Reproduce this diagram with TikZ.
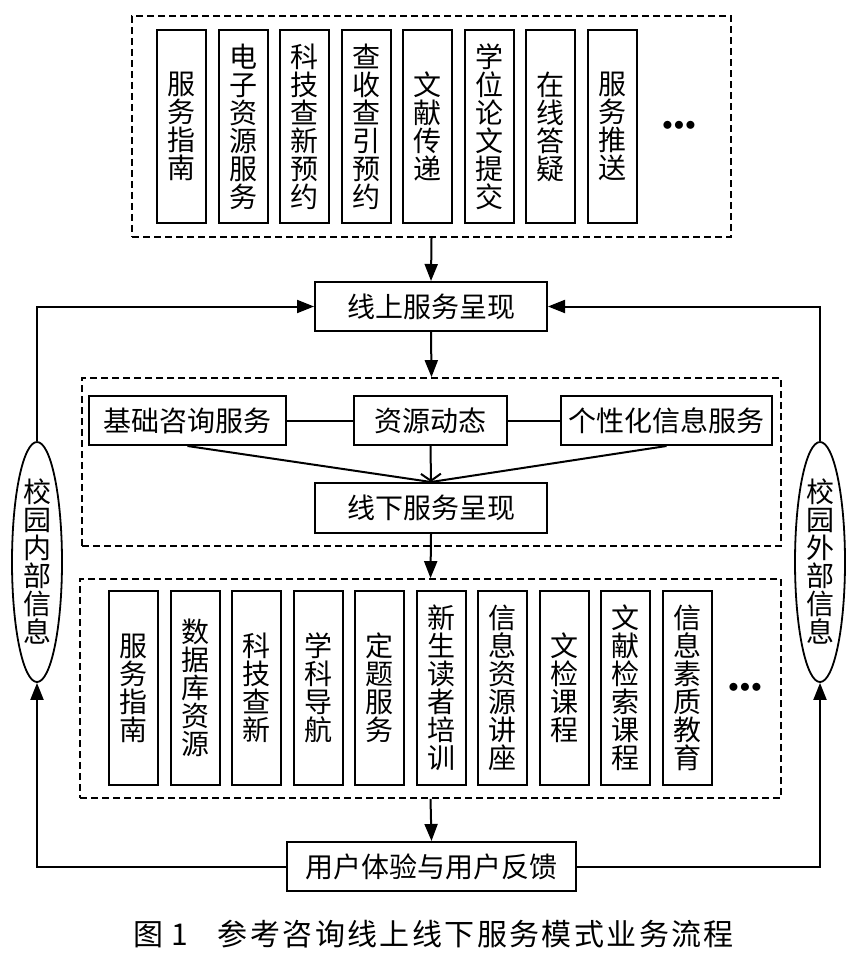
\documentclass[tikz,border=0pt]{standalone}
\usepackage{fontspec}
\newfontfamily\cjk{Noto Sans CJK SC}
\usetikzlibrary{arrows.meta,shapes.geometric}
\XeTeXlinebreaklocale "zh"
\XeTeXlinebreakskip=0pt plus 1pt

\begin{document}
\begin{tikzpicture}[x=1pt, y=-1pt,
    every node/.style={font={\cjk\fontsize{28}{28}\selectfont}, inner sep=0pt},
    box/.style={draw, line width=2pt, minimum height=49pt},
    colbox/.style={draw, line width=2pt, minimum width=49pt, text width=30pt, align=center},
    dashbox/.style={draw, line width=1.7pt, dash pattern=on 7pt off 4pt},
    infoell/.style={draw, ellipse, line width=1.8pt, minimum width=50pt, minimum height=240pt, text width=30pt, align=center},
    arr/.style={line width=2pt, -{Triangle[length=17pt,width=13pt]}},
    line/.style={line width=2pt}]
    \useasboundingbox (0,0) rectangle (862,957);

    % online services
    \node[dashbox, minimum width=599pt, minimum height=221pt] (top) at (431.5,126.5) {};
    \foreach \txt [count=\i] in {服务指南,电子资源服务,科技查新预约,查收查引预约,文献传递,学位论文提交,在线答疑,服务推送}
        \node[colbox, minimum height=193pt] (t\i) at ({181.5+61.5*(\i-1)},126.5) {\txt};
    \node[font=\fontsize{20}{20}\selectfont] (tdots) at (679,126) {$\bullet\!\bullet\!\bullet$};

    \node[box, minimum width=232pt] (online) at (431,306.5) {线上服务呈现};

    % offline services
    \node[dashbox, minimum width=699pt, minimum height=168pt] (mid) at (431.5,462) {};
    \node[box, minimum width=197pt] (basic) at (187.5,420.5) {基础咨询服务};
    \node[box, minimum width=153pt] (res) at (430.5,420.5) {资源动态};
    \node[box, minimum width=211pt] (pers) at (666.5,420.5) {个性化信息服务};
    \node[box, minimum width=232pt, minimum height=50pt] (offline) at (431,508) {线下服务呈现};

    \node[dashbox, minimum width=701pt, minimum height=219pt] (bot) at (430.5,688.5) {};
    \foreach \txt [count=\i] in {服务指南,数据库资源,科技查新,学科导航,定题服务,新生读者培训,信息资源讲座,文检课程,文献检索课程,信息素质教育}
        \node[colbox, minimum height=194pt] (b\i) at ({133.5+61.5*(\i-1)},688) {\txt};
    \node[font=\fontsize{20}{20}\selectfont] (bdots) at (745,688) {$\bullet\!\bullet\!\bullet$};

    \node[box, minimum width=289pt] (fb) at (431.5,866.5) {用户体验与用户反馈};
    \node[infoell] (inner) at (37,562) {校园内部信息};
    \node[infoell] (outer) at (820,562) {校园外部信息};

    \node[anchor=west, font={\cjk\fontsize{30}{30}\selectfont}] (cap) at (133,934)
        {图\hspace{8pt}1\hspace{30pt}{\addfontfeature{LetterSpace=8}参考咨询线上线下服务模式业务流程}};

    % connectors
    \draw[arr] (top.south) -- (online.north);
    \draw[arr] (online.south) -- (mid.north);
    \draw[line] (basic) -- (res) (res) -- (pers);
    \draw[line] (basic.south) -- (offline.north);
    \draw[line] (pers.south) -- (offline.north);
    \draw[line, -{Straight Barb[length=7pt,width=20pt]}] (res.south) -- (offline.north);
    \draw[arr] (offline.south) -- (bot.north);
    \draw[arr] (bot.south) -- (fb.north);
    \draw[arr] (fb.west) -| (inner.south);
    \draw[arr] (inner.north) |- (online.west);
    \draw[arr] (fb.east) -| (outer.south);
    \draw[arr] (outer.north) |- (online.east);
\end{tikzpicture}
\end{document}
